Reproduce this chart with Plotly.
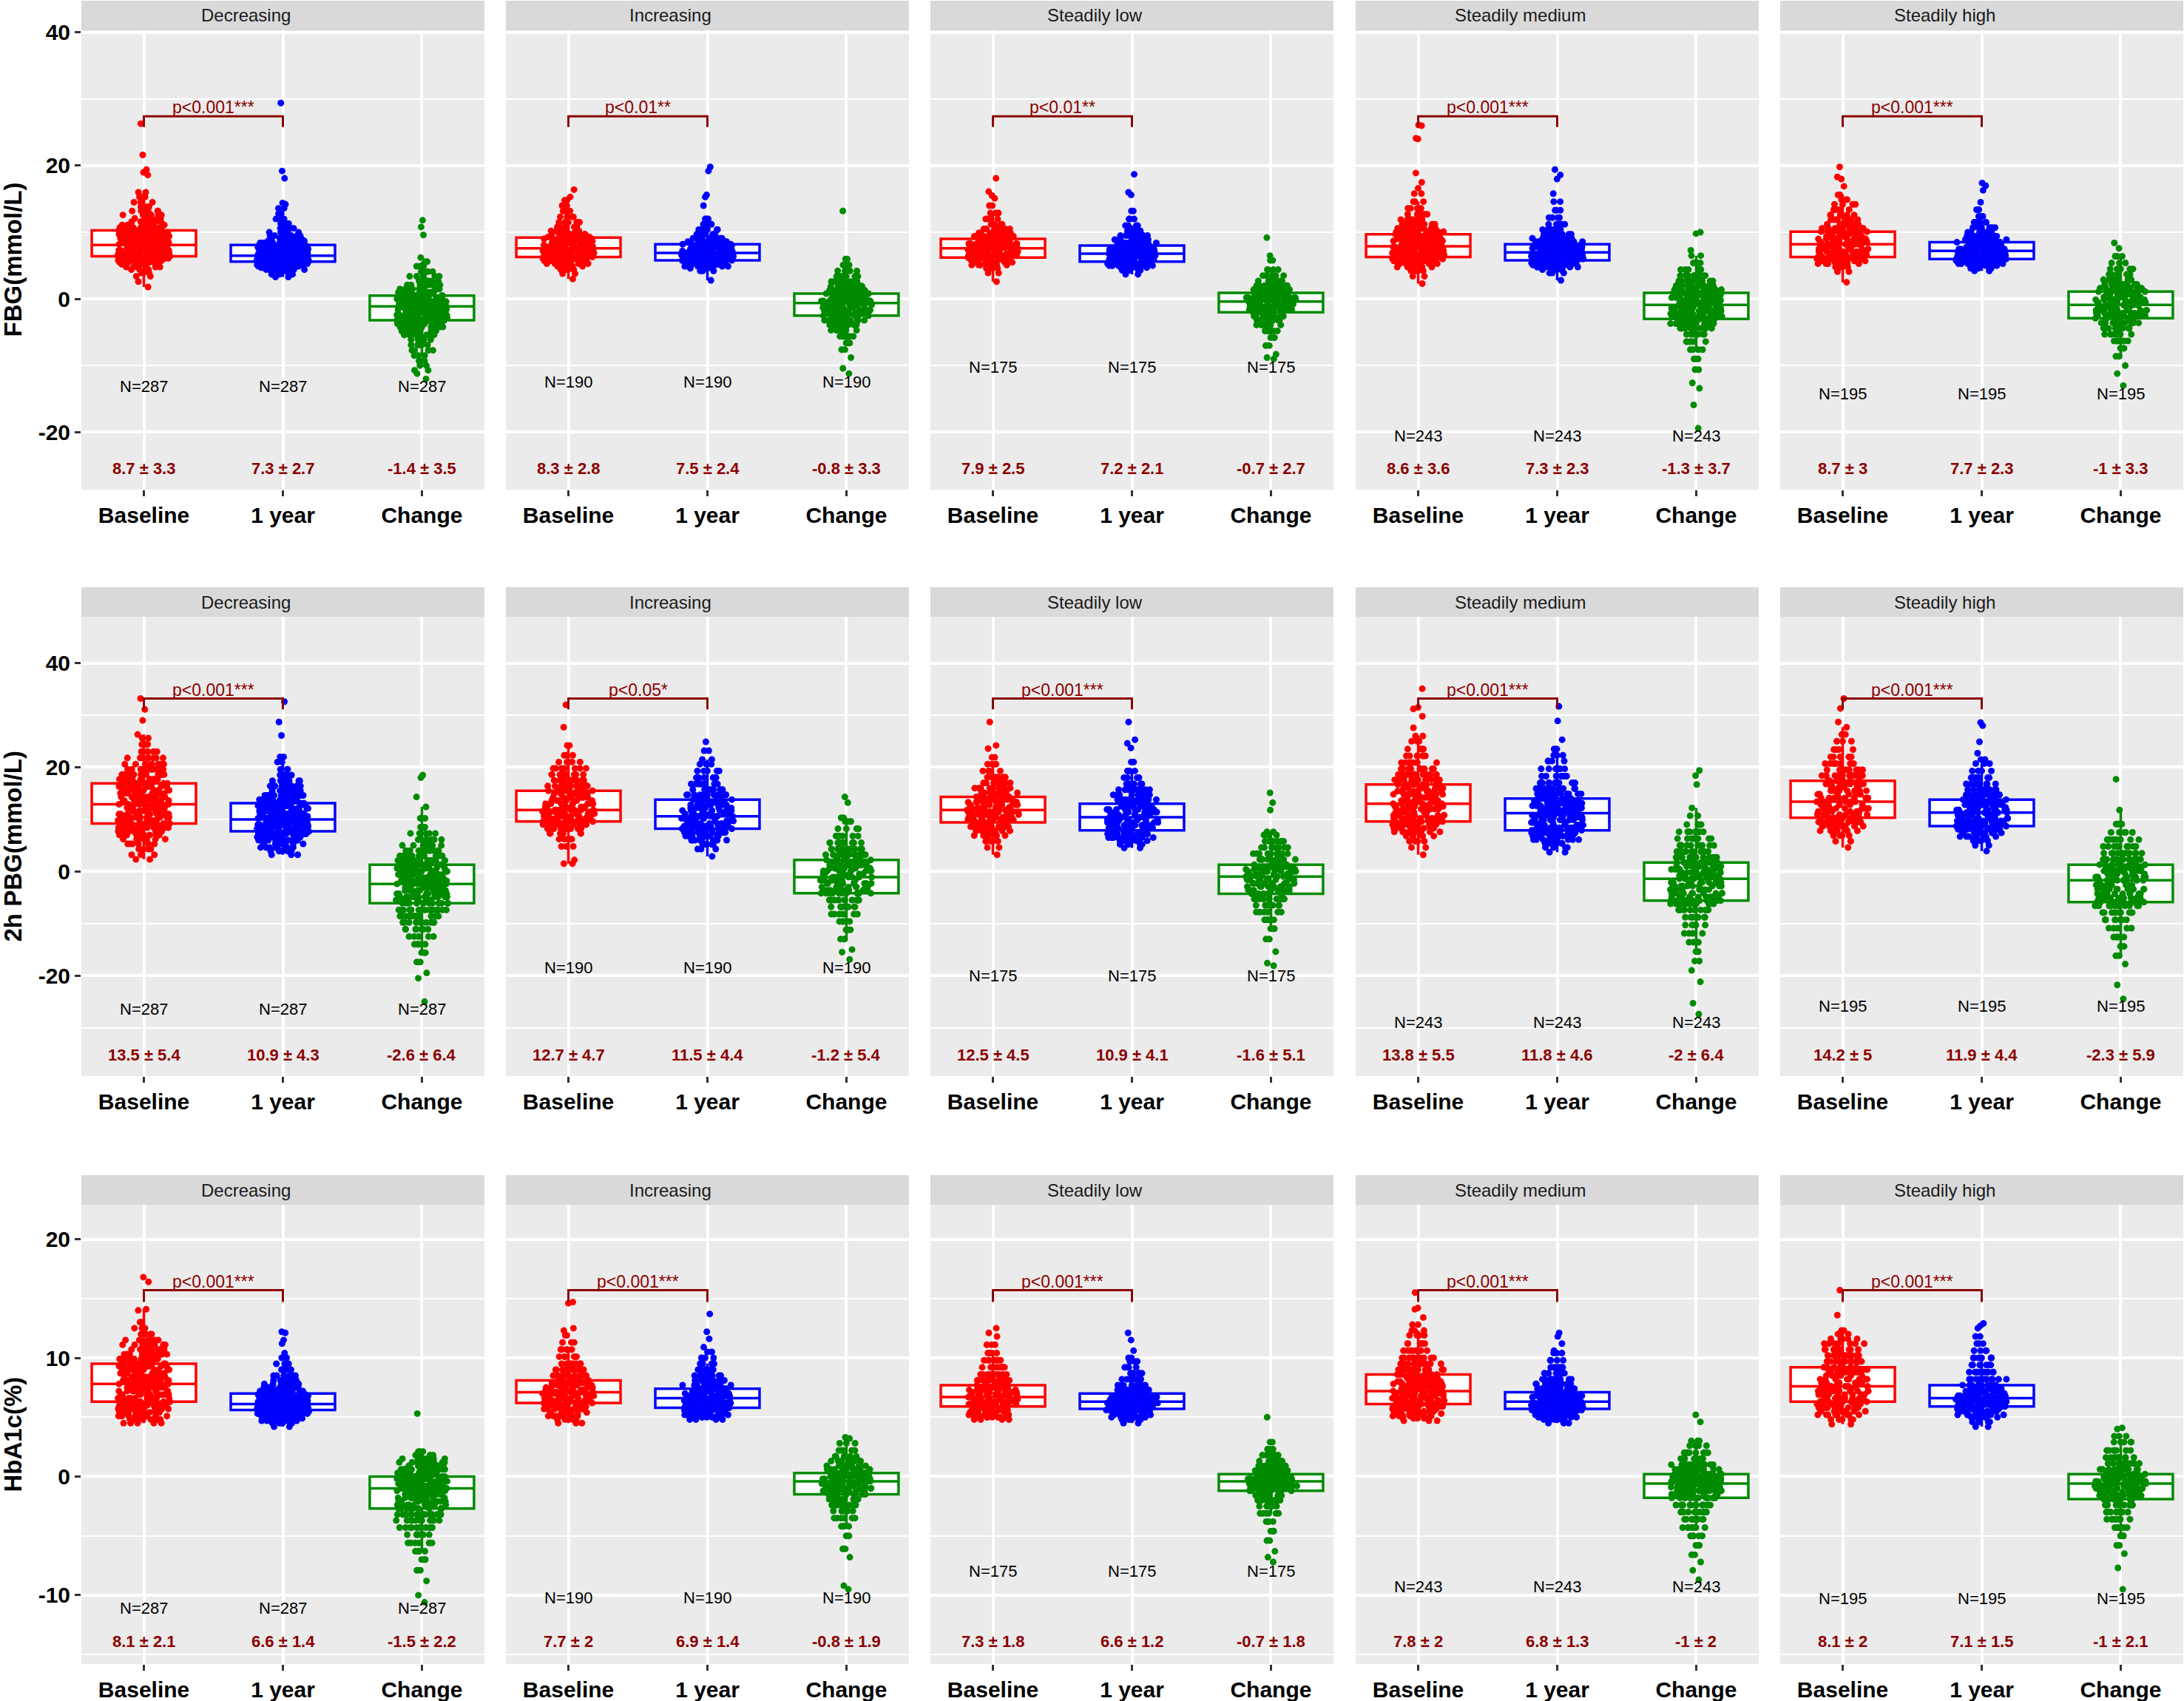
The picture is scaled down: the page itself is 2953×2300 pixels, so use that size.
import plotly.graph_objects as go

# ---------------- categories ----------------
GROUPS = ['Decreasing', 'Increasing', 'Steadily low', 'Steadily medium', 'Steadily high']
TIMES = ['Baseline', '1 year', 'Change']
N_GROUP = [287, 190, 175, 243, 195]
Y_TITLES = ['FBG(mmol/L)', '2h PBG(mmol/L)', 'HbA1c(%)']

# Jittered points: each value comes with how many
# points sit at about that level (the cores are too dense to read one by one).

# ---------------- FBG ----------------
fbg_dec_base = [1.8, 2.6, 3.4, 3.9, 4.4, 4.8, 5.2, 5.5, 5.8, 6.1, 6.4, 6.7, 7.0, 7.3, 7.6, 7.9, 8.2, 8.5, 8.8, 9.1, 9.4, 9.7, 10.0, 10.3, 10.7, 11.1, 11.6, 12.1, 12.6, 13.2, 13.8, 14.5, 15.3, 16.0, 18.6, 19.0, 19.4, 21.6, 26.3]
fbg_dec_base_n = [1, 1, 2, 3, 4, 6, 9, 12, 14, 16, 11, 11, 11, 11, 11, 11, 11, 11, 11, 11, 11, 11, 11, 11, 12, 10, 9, 8, 7, 6, 5, 4, 3, 2, 1, 1, 1, 1, 1]
fbg_dec_1y = [3.3, 3.7, 4.1, 4.4, 4.7, 4.9, 5.1, 5.3, 5.5, 5.7, 5.9, 6.1, 6.3, 6.5, 6.7, 6.9, 7.1, 7.3, 7.5, 7.7, 7.9, 8.1, 8.4, 8.7, 9.1, 9.5, 10.0, 10.6, 11.3, 12.0, 12.8, 13.6, 14.2, 14.4, 18.1, 19.2, 29.4]
fbg_dec_1y_n = [2, 3, 5, 7, 9, 10, 11, 12, 12, 13, 13, 13, 13, 13, 11, 11, 11, 11, 11, 11, 11, 11, 12, 11, 10, 8, 7, 5, 4, 3, 2, 2, 1, 1, 1, 1, 1]
fbg_dec_chg = [-12.0, -11.2, -10.7, -10.0, -9.3, -8.5, -7.7, -6.9, -6.1, -5.4, -4.8, -4.2, -3.7, -3.2, -2.8, -2.4, -2.0, -1.6, -1.2, -0.8, -0.4, 0.0, 0.5, 1.0, 1.5, 2.1, 2.7, 3.4, 4.1, 4.9, 5.6, 6.2, 9.6, 10.8, 11.8]
fbg_dec_chg_n = [1, 1, 2, 2, 3, 3, 4, 5, 6, 8, 10, 12, 14, 14, 14, 15, 15, 15, 15, 14, 14, 14, 14, 13, 12, 10, 8, 6, 5, 3, 2, 1, 1, 1, 1]
fbg_inc_base = [3.0, 3.8, 4.4, 4.9, 5.3, 5.7, 6.0, 6.3, 6.6, 6.9, 7.2, 7.5, 7.8, 8.1, 8.4, 8.7, 9.0, 9.3, 9.7, 10.2, 10.8, 11.5, 12.3, 13.2, 14.0, 14.8, 15.3, 16.4]
fbg_inc_base_n = [1, 2, 4, 6, 8, 12, 14, 10, 10, 10, 10, 10, 10, 10, 10, 10, 10, 9, 9, 8, 7, 5, 4, 3, 2, 2, 1, 1]
fbg_inc_1y = [2.8, 4.2, 4.6, 4.9, 5.2, 5.5, 5.8, 6.0, 6.2, 6.4, 6.6, 6.8, 7.0, 7.2, 7.4, 7.6, 7.8, 8.0, 8.2, 8.6, 9.1, 9.7, 10.4, 11.2, 12.0, 14.0, 15.3, 15.6, 19.2, 19.8]
fbg_inc_1y_n = [1, 3, 6, 9, 12, 15, 8, 8, 8, 8, 8, 8, 8, 8, 8, 8, 8, 8, 8, 12, 10, 8, 6, 4, 3, 1, 1, 1, 1, 1]
fbg_inc_chg = [-11.2, -10.4, -8.8, -7.6, -6.6, -5.6, -4.7, -3.9, -3.2, -2.5, -2.1, -1.7, -1.3, -0.9, -0.6, -0.3, 0.0, 0.4, 0.8, 1.3, 1.9, 2.6, 3.4, 4.2, 5.1, 6.0, 13.2]
fbg_inc_chg_n = [1, 1, 1, 2, 3, 5, 7, 11, 14, 10, 10, 10, 10, 10, 10, 10, 10, 10, 10, 13, 11, 9, 6, 4, 3, 2, 1]
fbg_low_base = [2.6, 3.9, 4.6, 5.1, 5.5, 5.9, 6.2, 6.5, 6.8, 7.1, 7.4, 7.7, 8.0, 8.3, 8.6, 9.0, 9.4, 9.9, 10.5, 11.2, 12.0, 12.9, 14.0, 15.1, 15.5, 16.1, 18.1]
fbg_low_base_n = [1, 2, 4, 8, 11, 15, 9, 9, 9, 9, 9, 9, 9, 9, 9, 9, 12, 9, 7, 5, 4, 3, 2, 1, 1, 1, 1]
fbg_low_1y = [3.7, 4.3, 4.7, 5.0, 5.3, 5.6, 5.9, 6.2, 6.5, 6.8, 7.1, 7.4, 7.7, 8.0, 8.4, 8.9, 9.5, 10.2, 11.0, 12.0, 13.2, 15.6, 16.0, 18.7]
fbg_low_1y_n = [2, 4, 7, 11, 15, 10, 10, 10, 10, 10, 10, 10, 10, 10, 12, 10, 8, 6, 4, 3, 2, 1, 1, 1]
fbg_low_chg = [-9.0, -8.8, -8.3, -7.0, -5.8, -4.8, -3.9, -3.2, -2.6, -2.0, -1.6, -1.2, -0.8, -0.4, -0.1, 0.2, 0.5, 0.9, 1.4, 2.0, 2.7, 3.5, 4.4, 5.8, 6.5, 9.2]
fbg_low_chg_n = [1, 1, 1, 2, 3, 5, 7, 9, 13, 10, 10, 10, 10, 10, 10, 10, 10, 10, 12, 10, 8, 6, 4, 2, 1, 1]
fbg_med_base = [2.3, 3.4, 4.2, 4.8, 5.3, 5.7, 6.0, 6.3, 6.6, 6.9, 7.2, 7.5, 7.8, 8.1, 8.4, 8.7, 9.0, 9.4, 9.7, 10.1, 10.6, 11.2, 11.9, 12.7, 13.6, 14.6, 15.8, 16.6, 17.5, 18.9, 24.0, 24.1, 26.0, 26.1]
fbg_med_base_n = [1, 2, 4, 7, 10, 14, 17, 10, 10, 10, 10, 10, 10, 10, 10, 10, 10, 10, 10, 14, 12, 10, 8, 6, 5, 3, 2, 1, 1, 1, 1, 1, 1, 1]
fbg_med_1y = [2.8, 3.9, 4.4, 4.8, 5.1, 5.4, 5.8, 6.0, 6.2, 6.4, 6.6, 6.8, 7.0, 7.2, 7.4, 7.6, 7.8, 8.0, 8.2, 8.6, 9.1, 9.7, 10.4, 11.2, 12.2, 13.3, 14.6, 15.8, 18.0, 18.6, 19.4]
fbg_med_1y_n = [1, 3, 6, 10, 15, 20, 9, 9, 9, 9, 9, 9, 9, 9, 9, 9, 9, 9, 9, 16, 13, 10, 8, 6, 4, 3, 2, 1, 1, 1, 1]
fbg_med_chg = [-19.4, -15.9, -13.4, -12.6, -10.6, -9.0, -7.6, -6.4, -5.3, -4.4, -3.7, -3.0, -2.6, -2.2, -1.8, -1.4, -1.0, -0.6, -0.2, 0.2, 0.6, 0.9, 1.4, 2.0, 2.7, 3.5, 4.4, 5.4, 6.5, 7.3, 9.8, 10.0]
fbg_med_chg_n = [1, 1, 1, 1, 2, 3, 4, 6, 8, 11, 15, 11, 11, 11, 11, 11, 11, 11, 11, 11, 11, 11, 15, 13, 11, 9, 6, 4, 2, 1, 1, 1]
fbg_high_base = [2.5, 4.1, 4.8, 5.3, 5.7, 6.0, 6.3, 6.7, 7.1, 7.5, 7.9, 8.2, 8.6, 9.0, 9.4, 9.8, 10.1, 10.6, 11.2, 11.9, 12.6, 13.4, 14.2, 14.9, 15.6, 16.9, 18.0, 18.3, 19.8]
fbg_high_base_n = [1, 2, 4, 8, 12, 17, 9, 9, 9, 9, 9, 9, 9, 9, 9, 9, 9, 11, 9, 8, 6, 5, 4, 3, 2, 1, 1, 1, 1]
fbg_high_1y = [4.2, 4.6, 5.0, 5.3, 5.6, 5.8, 6.0, 6.3, 6.6, 6.9, 7.2, 7.5, 7.8, 8.1, 8.5, 8.9, 9.4, 10.0, 10.7, 11.5, 12.4, 13.4, 14.5, 16.3, 17.0, 17.4]
fbg_high_1y_n = [2, 4, 7, 10, 12, 14, 11, 11, 11, 11, 11, 11, 11, 11, 11, 12, 10, 8, 7, 5, 3, 2, 1, 1, 1, 1]
fbg_high_chg = [-13.0, -11.2, -10.0, -8.6, -7.4, -6.3, -5.3, -4.4, -3.6, -2.9, -2.5, -2.1, -1.7, -1.3, -0.9, -0.5, -0.1, 0.3, 0.7, 1.1, 1.6, 2.2, 2.9, 3.7, 4.5, 5.4, 6.4, 7.6, 8.4]
fbg_high_chg_n = [1, 1, 1, 2, 3, 5, 7, 10, 14, 9, 9, 9, 9, 9, 9, 9, 9, 9, 9, 9, 12, 10, 8, 7, 5, 4, 3, 1, 1]

# ---------------- 2h PBG ----------------
pbg_dec_base = [2.3, 3.2, 4.3, 5.3, 6.2, 7.0, 7.7, 8.4, 9.2, 9.8, 10.4, 11.0, 11.6, 12.2, 12.9, 13.6, 14.3, 15.0, 15.6, 16.3, 16.9, 17.7, 18.6, 19.6, 20.6, 21.8, 23.0, 24.4, 25.6, 26.3, 29.0, 31.1, 33.2]
pbg_dec_base_n = [2, 3, 4, 6, 8, 11, 15, 20, 11, 11, 11, 11, 11, 11, 11, 11, 11, 11, 11, 11, 11, 15, 14, 12, 10, 8, 5, 3, 2, 1, 1, 1, 1]
pbg_dec_1y = [3.2, 3.9, 4.6, 5.3, 6.0, 6.6, 7.2, 7.7, 8.2, 8.6, 9.0, 9.4, 9.8, 10.2, 10.6, 11.1, 11.6, 12.1, 12.6, 13.1, 13.8, 14.6, 15.5, 16.4, 17.4, 18.5, 19.6, 21.0, 22.0, 26.1, 28.7, 32.6]
pbg_dec_1y_n = [3, 5, 7, 9, 12, 15, 19, 11, 11, 11, 11, 11, 11, 11, 11, 11, 11, 11, 11, 11, 17, 15, 12, 9, 7, 5, 3, 2, 2, 1, 1, 1]
pbg_dec_chg = [-25.0, -20.5, -19.5, -17.4, -15.6, -14.0, -12.5, -11.1, -9.8, -8.6, -7.4, -6.1, -5.5, -4.9, -4.3, -3.7, -3.1, -2.4, -1.8, -1.2, -0.6, 0.0, 0.6, 1.3, 2.1, 3.0, 4.0, 5.0, 6.1, 7.3, 8.5, 10.2, 12.4, 14.3, 18.0, 18.5]
pbg_dec_chg_n = [1, 1, 1, 2, 3, 4, 5, 7, 10, 14, 19, 11, 11, 11, 11, 11, 11, 11, 11, 11, 11, 11, 11, 11, 17, 15, 12, 9, 7, 5, 3, 2, 1, 1, 1, 1]
pbg_inc_base = [1.5, 2.2, 4.8, 6.2, 7.3, 8.2, 9.0, 9.6, 10.1, 10.6, 11.1, 11.5, 11.8, 12.4, 13.0, 13.6, 14.2, 14.9, 15.5, 16.4, 17.5, 18.6, 19.8, 21.0, 22.3, 24.2, 27.7, 32.0]
pbg_inc_base_n = [2, 1, 3, 5, 8, 12, 16, 8, 8, 8, 8, 8, 8, 8, 8, 8, 8, 8, 8, 13, 11, 9, 7, 5, 3, 2, 1, 1]
pbg_inc_1y = [2.9, 4.3, 5.2, 6.0, 6.8, 7.5, 8.2, 8.7, 9.2, 9.7, 10.2, 10.6, 11.1, 11.7, 12.2, 12.8, 13.3, 13.8, 14.7, 15.7, 16.8, 18.0, 19.3, 20.6, 21.5, 23.2, 24.9]
pbg_inc_1y_n = [1, 3, 5, 8, 12, 17, 8, 8, 8, 8, 8, 8, 8, 8, 8, 8, 8, 8, 12, 10, 9, 7, 5, 3, 2, 2, 1]
pbg_inc_chg = [-16.9, -15.5, -15.0, -13.0, -11.2, -9.6, -8.2, -6.8, -5.5, -4.2, -3.6, -3.0, -2.3, -1.7, -1.1, -0.5, 0.1, 0.6, 1.2, 1.7, 2.2, 3.2, 4.3, 5.5, 6.8, 8.2, 9.6, 10.3, 13.2, 14.3]
pbg_inc_chg_n = [1, 1, 1, 2, 3, 4, 6, 10, 14, 13, 8, 8, 8, 8, 8, 8, 8, 8, 8, 8, 8, 13, 11, 9, 6, 4, 3, 2, 1, 1]
pbg_low_base = [3.2, 4.6, 5.8, 6.9, 7.8, 8.6, 9.4, 9.9, 10.4, 10.9, 11.4, 11.8, 12.3, 12.8, 13.3, 13.8, 14.3, 15.1, 16.0, 17.0, 18.1, 19.3, 20.6, 21.9, 23.6, 24.2, 28.7]
pbg_low_base_n = [1, 2, 4, 7, 11, 17, 8, 8, 8, 8, 8, 8, 8, 8, 8, 8, 8, 12, 10, 8, 6, 4, 3, 2, 1, 1, 1]
pbg_low_1y = [4.5, 5.2, 5.9, 6.5, 7.2, 7.9, 8.4, 8.9, 9.4, 9.9, 10.4, 10.9, 11.4, 11.9, 12.5, 13.0, 13.8, 14.7, 15.7, 16.8, 18.0, 19.3, 21.0, 23.7, 24.6, 25.3, 28.7]
pbg_low_1y_n = [2, 4, 7, 11, 17, 8, 8, 8, 8, 8, 8, 8, 8, 8, 8, 8, 12, 10, 8, 6, 4, 3, 2, 1, 1, 1, 1]
pbg_low_chg = [-18.1, -17.6, -15.4, -13.0, -11.0, -9.3, -7.8, -6.5, -5.3, -4.3, -3.6, -2.9, -2.3, -1.6, -1.0, -0.5, 0.0, 0.4, 0.9, 1.3, 2.3, 3.4, 4.6, 5.8, 7.0, 7.6, 11.8, 13.2, 15.1]
pbg_low_chg_n = [1, 1, 1, 2, 3, 4, 6, 10, 14, 8, 8, 8, 8, 8, 8, 8, 8, 8, 8, 8, 12, 10, 8, 6, 4, 2, 1, 1, 1]
pbg_med_base = [3.2, 4.6, 5.8, 6.8, 7.6, 8.3, 9.0, 9.6, 10.2, 10.8, 11.4, 12.0, 12.5, 13.0, 13.6, 14.2, 14.8, 15.4, 16.0, 16.7, 17.6, 18.6, 19.7, 20.9, 22.2, 23.5, 25.0, 26.0, 27.6, 29.8, 31.2, 31.5, 35.1]
pbg_med_base_n = [1, 2, 4, 6, 9, 13, 18, 9, 9, 9, 9, 9, 9, 9, 9, 9, 9, 9, 9, 9, 15, 13, 11, 8, 6, 4, 3, 2, 1, 1, 1, 1, 1]
pbg_med_1y = [3.7, 4.6, 5.4, 6.1, 6.8, 7.4, 7.9, 8.4, 8.9, 9.4, 9.9, 10.4, 10.8, 11.2, 11.7, 12.2, 12.6, 13.1, 13.5, 14.0, 14.9, 15.9, 17.0, 18.3, 19.7, 21.2, 22.3, 23.5, 25.3, 28.9, 31.7]
pbg_med_1y_n = [2, 4, 6, 9, 13, 18, 9, 9, 9, 9, 9, 9, 9, 9, 9, 9, 9, 9, 9, 9, 15, 13, 11, 8, 6, 4, 3, 2, 1, 1, 1]
pbg_med_chg = [-27.4, -25.3, -21.2, -19.0, -17.2, -15.4, -13.6, -11.9, -10.3, -8.8, -7.4, -6.2, -5.6, -4.9, -4.2, -3.5, -2.8, -2.1, -1.4, -0.8, -0.2, 0.4, 1.0, 1.7, 2.7, 3.8, 5.0, 6.3, 7.6, 9.0, 10.7, 12.2, 16.7, 18.4, 19.4]
pbg_med_chg_n = [1, 1, 1, 1, 2, 2, 3, 4, 5, 7, 10, 14, 10, 10, 10, 10, 10, 10, 10, 10, 10, 10, 10, 10, 14, 12, 10, 8, 6, 4, 2, 1, 1, 1, 1]
pbg_high_base = [4.6, 5.8, 6.9, 7.8, 8.7, 9.5, 10.3, 10.9, 11.5, 12.1, 12.8, 13.4, 14.1, 14.8, 15.5, 16.2, 16.8, 17.4, 18.4, 19.5, 20.7, 22.0, 23.4, 25.0, 26.3, 27.7, 28.7, 31.3, 33.2]
pbg_high_base_n = [1, 2, 4, 7, 12, 18, 8, 8, 8, 8, 8, 8, 8, 8, 8, 8, 8, 8, 13, 11, 9, 6, 4, 3, 2, 1, 1, 1, 1]
pbg_high_1y = [3.9, 5.0, 5.9, 6.7, 7.4, 8.1, 8.7, 9.2, 9.7, 10.2, 10.8, 11.3, 11.8, 12.3, 12.8, 13.3, 13.8, 14.7, 15.7, 16.8, 18.0, 19.3, 20.7, 21.5, 22.7, 24.9, 28.0, 28.6]
pbg_high_1y_n = [1, 2, 4, 8, 12, 18, 9, 9, 9, 9, 9, 9, 9, 9, 9, 9, 9, 12, 10, 8, 6, 4, 3, 2, 1, 1, 1, 1]
pbg_high_chg = [-24.5, -21.8, -17.8, -16.2, -14.4, -12.6, -10.9, -9.3, -7.9, -6.6, -5.9, -5.1, -4.3, -3.4, -2.6, -1.7, -1.1, -0.5, 0.1, 0.7, 1.3, 2.3, 3.5, 4.8, 6.1, 7.5, 9.1, 11.8, 17.7]
pbg_high_chg_n = [1, 1, 1, 2, 3, 4, 5, 7, 9, 12, 9, 9, 9, 9, 9, 9, 9, 9, 9, 9, 9, 13, 11, 9, 7, 5, 3, 1, 1]

# ---------------- HbA1c ----------------
hba_dec_base = [4.5, 4.8, 5.1, 5.4, 5.7, 6.0, 6.3, 6.6, 6.9, 7.2, 7.5, 7.8, 8.1, 8.4, 8.7, 9.0, 9.3, 9.5, 9.9, 10.3, 10.7, 11.1, 11.5, 12.0, 12.5, 13.0, 14.0, 14.1, 16.4, 16.8]
hba_dec_base_n = [5, 8, 11, 14, 16, 17, 12, 12, 12, 12, 12, 12, 12, 12, 12, 12, 12, 12, 17, 15, 12, 10, 7, 5, 3, 2, 1, 1, 1, 1]
hba_dec_1y = [4.2, 4.5, 4.7, 4.9, 5.1, 5.3, 5.5, 5.6, 5.7, 5.8, 5.9, 6.0, 6.1, 6.2, 6.3, 6.4, 6.5, 6.6, 6.7, 6.8, 6.9, 7.0, 7.2, 7.5, 7.8, 8.1, 8.5, 9.0, 9.5, 10.0, 10.4, 11.2, 11.5, 12.1, 12.2]
hba_dec_1y_n = [2, 5, 8, 12, 17, 21, 8, 9, 9, 9, 9, 9, 9, 9, 9, 9, 9, 9, 9, 9, 9, 9, 16, 14, 11, 9, 7, 5, 3, 2, 1, 1, 1, 1, 1]
hba_dec_chg = [-10.6, -10.0, -8.8, -7.9, -7.0, -6.3, -5.6, -4.9, -4.3, -3.7, -3.2, -2.7, -2.4, -2.1, -1.8, -1.5, -1.2, -1.0, -0.8, -0.6, -0.4, -0.2, 0.0, 0.3, 0.6, 0.9, 1.2, 1.5, 1.8, 2.1, 5.3]
hba_dec_chg_n = [1, 1, 1, 2, 3, 4, 6, 8, 11, 15, 19, 12, 12, 12, 12, 12, 12, 12, 12, 12, 12, 12, 12, 16, 15, 13, 11, 8, 5, 3, 1]
hba_inc_base = [4.5, 4.8, 5.1, 5.4, 5.7, 5.9, 6.2, 6.4, 6.6, 6.8, 7.0, 7.1, 7.3, 7.5, 7.7, 7.9, 8.1, 8.5, 9.0, 9.5, 10.1, 10.7, 11.3, 11.9, 12.3, 12.5, 14.6, 14.7]
hba_inc_base_n = [3, 5, 7, 9, 11, 12, 8, 8, 8, 8, 8, 8, 8, 8, 8, 8, 8, 12, 10, 8, 6, 5, 3, 2, 1, 1, 1, 1]
hba_inc_1y = [4.8, 5.0, 5.2, 5.4, 5.6, 5.8, 6.0, 6.2, 6.4, 6.6, 6.8, 7.0, 7.2, 7.4, 7.7, 8.1, 8.5, 9.0, 9.5, 10.0, 10.5, 10.9, 11.6, 12.2, 13.7]
hba_inc_1y_n = [4, 7, 10, 12, 14, 10, 10, 10, 10, 10, 10, 10, 10, 10, 13, 11, 9, 6, 4, 3, 2, 1, 1, 1, 1]
hba_inc_chg = [-9.5, -9.2, -6.8, -6.1, -5.0, -4.2, -3.5, -2.9, -2.4, -1.9, -1.5, -1.2, -1.0, -0.8, -0.6, -0.4, -0.2, 0.0, 0.1, 0.3, 0.6, 0.9, 1.3, 1.7, 2.2, 2.8, 3.2, 3.3]
hba_inc_chg_n = [1, 1, 1, 2, 3, 4, 6, 8, 10, 12, 9, 9, 9, 9, 9, 9, 9, 9, 9, 9, 13, 11, 9, 7, 5, 3, 1, 1]
hba_low_base = [4.8, 5.0, 5.2, 5.4, 5.6, 5.9, 6.1, 6.3, 6.5, 6.7, 6.9, 7.1, 7.3, 7.5, 7.7, 8.1, 8.6, 9.2, 9.8, 10.4, 11.1, 11.8, 12.1, 12.5]
hba_low_base_n = [4, 7, 9, 11, 12, 9, 9, 9, 9, 9, 9, 9, 9, 9, 9, 12, 10, 8, 6, 4, 3, 1, 1, 1]
hba_low_1y = [4.5, 4.8, 5.0, 5.2, 5.4, 5.6, 5.7, 5.8, 5.9, 6.0, 6.1, 6.2, 6.3, 6.4, 6.5, 6.6, 6.7, 6.8, 6.9, 7.0, 7.3, 7.7, 8.2, 8.7, 9.2, 9.7, 10.0, 10.6, 11.5, 12.1]
hba_low_1y_n = [2, 5, 7, 9, 10, 11, 6, 6, 6, 6, 6, 6, 6, 6, 6, 6, 6, 6, 6, 6, 12, 10, 8, 6, 4, 3, 2, 1, 1, 1]
hba_low_chg = [-7.2, -6.8, -6.3, -5.4, -4.6, -3.8, -3.1, -2.5, -2.0, -1.6, -1.2, -1.0, -0.8, -0.6, -0.4, -0.2, 0.0, 0.2, 0.5, 0.9, 1.3, 1.8, 2.3, 2.9, 5.0]
hba_low_chg_n = [1, 1, 1, 2, 3, 4, 6, 8, 9, 10, 11, 11, 11, 11, 11, 11, 11, 11, 12, 10, 8, 6, 4, 2, 1]
hba_med_base = [4.7, 4.9, 5.1, 5.3, 5.5, 5.7, 5.9, 6.1, 6.4, 6.6, 6.8, 7.0, 7.2, 7.4, 7.6, 7.8, 8.0, 8.3, 8.6, 9.0, 9.5, 10.0, 10.6, 11.2, 11.9, 12.3, 12.8, 13.4, 14.1, 14.2, 15.5]
hba_med_base_n = [3, 5, 7, 9, 10, 11, 12, 10, 10, 10, 10, 10, 10, 10, 10, 10, 10, 10, 10, 14, 12, 10, 8, 6, 4, 3, 2, 1, 1, 1, 1]
hba_med_1y = [4.5, 4.8, 5.0, 5.2, 5.4, 5.6, 5.7, 5.8, 5.9, 6.0, 6.1, 6.2, 6.3, 6.4, 6.5, 6.6, 6.7, 6.8, 6.9, 7.0, 7.1, 7.4, 7.8, 8.2, 8.7, 9.2, 9.8, 10.4, 10.6, 11.2, 11.8, 12.1]
hba_med_1y_n = [3, 6, 9, 12, 14, 16, 8, 8, 8, 8, 8, 8, 8, 8, 8, 8, 8, 8, 8, 8, 8, 15, 13, 10, 8, 6, 4, 3, 1, 1, 1, 1]
hba_med_chg = [-8.7, -7.9, -7.2, -6.6, -5.8, -5.0, -4.3, -3.6, -3.0, -2.4, -1.8, -1.5, -1.2, -0.9, -0.6, -0.4, -0.2, 0.0, 0.2, 0.6, 1.0, 1.5, 2.0, 2.6, 3.0, 4.6, 5.2]
hba_med_chg_n = [1, 1, 1, 2, 3, 5, 7, 9, 12, 15, 15, 15, 15, 15, 15, 15, 15, 15, 15, 16, 13, 10, 8, 5, 3, 1, 1]
hba_high_base = [4.4, 4.8, 5.2, 5.5, 5.8, 6.1, 6.3, 6.6, 6.9, 7.2, 7.4, 7.6, 7.9, 8.2, 8.5, 8.8, 9.0, 9.2, 9.7, 10.2, 10.7, 11.2, 11.6, 12.0, 12.3, 13.6, 15.7]
hba_high_base_n = [2, 5, 8, 10, 11, 12, 8, 8, 8, 8, 8, 8, 8, 8, 8, 8, 8, 8, 12, 11, 9, 7, 5, 3, 2, 1, 1]
hba_high_1y = [4.2, 4.6, 5.0, 5.2, 5.5, 5.7, 5.9, 6.1, 6.3, 6.5, 6.6, 6.8, 7.0, 7.2, 7.4, 7.7, 8.2, 8.8, 9.4, 10.0, 10.6, 11.2, 11.8, 12.5, 12.7, 12.9]
hba_high_1y_n = [2, 4, 7, 9, 12, 14, 10, 10, 10, 10, 10, 10, 10, 10, 10, 10, 13, 10, 8, 6, 4, 3, 2, 1, 1, 1]
hba_high_chg = [-9.5, -7.7, -6.5, -5.8, -5.0, -4.3, -3.6, -3.0, -2.4, -1.9, -1.6, -1.3, -1.0, -0.8, -0.6, -0.4, -0.2, 0.0, 0.2, 0.6, 1.1, 1.6, 2.2, 2.9, 3.4, 4.0, 4.1]
hba_high_chg_n = [1, 1, 1, 2, 3, 5, 7, 10, 12, 10, 10, 10, 10, 10, 10, 10, 10, 10, 10, 13, 11, 9, 7, 5, 3, 1, 1]

# ---------------- box quartiles [group][time] ----------------
FBG_Q1 = [[6.4, 5.6, -3.2], [6.3, 5.8, -2.5], [6.2, 5.6, -2.0], [6.3, 5.8, -3.0], [6.3, 6.0, -2.9]]
FBG_MED = [[8.1, 6.5, -1.1], [7.6, 6.9, -0.6], [7.6, 6.8, -0.4], [7.9, 7.0, -0.9], [8.2, 7.2, -0.9]]
FBG_Q3 = [[10.3, 8.1, 0.5], [9.2, 8.2, 0.8], [9.0, 8.0, 0.9], [9.7, 8.2, 0.9], [10.1, 8.5, 1.1]]
PBG_Q1 = [[9.2, 7.7, -6.1], [9.6, 8.2, -4.2], [9.4, 7.9, -4.3], [9.6, 7.9, -5.6], [10.3, 8.7, -5.9]]
PBG_MED = [[12.9, 10.0, -2.4], [11.8, 10.6, -1.1], [11.8, 10.4, -1.0], [13.0, 11.2, -1.4], [13.4, 11.3, -1.7]]
PBG_Q3 = [[16.9, 13.1, 1.3], [15.5, 13.8, 2.2], [14.3, 13.0, 1.3], [16.7, 14.0, 1.7], [17.4, 13.8, 1.3]]
HBA_Q1 = [[6.3, 5.6, -2.7], [6.2, 5.8, -1.5], [5.9, 5.7, -1.2], [6.1, 5.7, -1.8], [6.3, 5.9, -1.9]]
HBA_MED = [[7.8, 6.1, -1.0], [7.1, 6.6, -0.4], [6.7, 6.3, -0.4], [7.2, 6.3, -0.6], [7.6, 6.6, -0.6]]
HBA_Q3 = [[9.5, 7.0, 0.0], [8.1, 7.4, 0.3], [7.7, 7.0, 0.2], [8.6, 7.1, 0.2], [9.2, 7.7, 0.2]]

# ---------------- mean and SD labels ----------------
FBG_MEAN = [[8.7, 7.3, -1.4], [8.3, 7.5, -0.8], [7.9, 7.2, -0.7], [8.6, 7.3, -1.3], [8.7, 7.7, -1.0]]
FBG_SD = [[3.3, 2.7, 3.5], [2.8, 2.4, 3.3], [2.5, 2.1, 2.7], [3.6, 2.3, 3.7], [3.0, 2.3, 3.3]]
PBG_MEAN = [[13.5, 10.9, -2.6], [12.7, 11.5, -1.2], [12.5, 10.9, -1.6], [13.8, 11.8, -2.0], [14.2, 11.9, -2.3]]
PBG_SD = [[5.4, 4.3, 6.4], [4.7, 4.4, 5.4], [4.5, 4.1, 5.1], [5.5, 4.6, 6.4], [5.0, 4.4, 5.9]]
HBA_MEAN = [[8.1, 6.6, -1.5], [7.7, 6.9, -0.8], [7.3, 6.6, -0.7], [7.8, 6.8, -1.0], [8.1, 7.1, -1.0]]
HBA_SD = [[2.1, 1.4, 2.2], [2.0, 1.4, 1.9], [1.8, 1.2, 1.8], [2.0, 1.3, 2.0], [2.0, 1.5, 2.1]]

# ---------------- p-value labels ----------------
FBG_P = ['p<0.001***', 'p<0.01**', 'p<0.01**', 'p<0.001***', 'p<0.001***']
PBG_P = ['p<0.001***', 'p<0.05*', 'p<0.001***', 'p<0.001***', 'p<0.001***']
HBA_P = ['p<0.001***'] * 5

# N label heights per panel
FBG_NY = [-13.1, -12.5, -10.2, -20.6, -14.2]
PBG_NY = [-26.4, -18.5, -20.0, -29.0, -25.9]
HBA_NY = [-11.1, -10.2, -8.0, -9.3, -10.3]


def expand(vals, counts):
    return [v for v, n in zip(vals, counts) for _ in range(n)]


FBG_PTS = [[expand(fbg_dec_base, fbg_dec_base_n), expand(fbg_dec_1y, fbg_dec_1y_n), expand(fbg_dec_chg, fbg_dec_chg_n)],
           [expand(fbg_inc_base, fbg_inc_base_n), expand(fbg_inc_1y, fbg_inc_1y_n), expand(fbg_inc_chg, fbg_inc_chg_n)],
           [expand(fbg_low_base, fbg_low_base_n), expand(fbg_low_1y, fbg_low_1y_n), expand(fbg_low_chg, fbg_low_chg_n)],
           [expand(fbg_med_base, fbg_med_base_n), expand(fbg_med_1y, fbg_med_1y_n), expand(fbg_med_chg, fbg_med_chg_n)],
           [expand(fbg_high_base, fbg_high_base_n), expand(fbg_high_1y, fbg_high_1y_n), expand(fbg_high_chg, fbg_high_chg_n)]]
PBG_PTS = [[expand(pbg_dec_base, pbg_dec_base_n), expand(pbg_dec_1y, pbg_dec_1y_n), expand(pbg_dec_chg, pbg_dec_chg_n)],
           [expand(pbg_inc_base, pbg_inc_base_n), expand(pbg_inc_1y, pbg_inc_1y_n), expand(pbg_inc_chg, pbg_inc_chg_n)],
           [expand(pbg_low_base, pbg_low_base_n), expand(pbg_low_1y, pbg_low_1y_n), expand(pbg_low_chg, pbg_low_chg_n)],
           [expand(pbg_med_base, pbg_med_base_n), expand(pbg_med_1y, pbg_med_1y_n), expand(pbg_med_chg, pbg_med_chg_n)],
           [expand(pbg_high_base, pbg_high_base_n), expand(pbg_high_1y, pbg_high_1y_n), expand(pbg_high_chg, pbg_high_chg_n)]]
HBA_PTS = [[expand(hba_dec_base, hba_dec_base_n), expand(hba_dec_1y, hba_dec_1y_n), expand(hba_dec_chg, hba_dec_chg_n)],
           [expand(hba_inc_base, hba_inc_base_n), expand(hba_inc_1y, hba_inc_1y_n), expand(hba_inc_chg, hba_inc_chg_n)],
           [expand(hba_low_base, hba_low_base_n), expand(hba_low_1y, hba_low_1y_n), expand(hba_low_chg, hba_low_chg_n)],
           [expand(hba_med_base, hba_med_base_n), expand(hba_med_1y, hba_med_1y_n), expand(hba_med_chg, hba_med_chg_n)],
           [expand(hba_high_base, hba_high_base_n), expand(hba_high_1y, hba_high_1y_n), expand(hba_high_chg, hba_high_chg_n)]]

ROWS = [
    (FBG_PTS, FBG_Q1, FBG_MED, FBG_Q3, FBG_MEAN, FBG_SD, FBG_P, FBG_NY),
    (PBG_PTS, PBG_Q1, PBG_MED, PBG_Q3, PBG_MEAN, PBG_SD, PBG_P, PBG_NY),
    (HBA_PTS, HBA_Q1, HBA_MED, HBA_Q3, HBA_MEAN, HBA_SD, HBA_P, HBA_NY),
]

# ---------------- layout (pixels) ----------------
W, H = 2953, 2300
FONT = 'Liberation Sans, Arial, sans-serif'
COLORS = ['#FF0000', '#0000FF', '#008B00']
DARKRED = '#8B0000'
COL_LEFT = [110, 684, 1258, 1833, 2407]
PANEL_W = 545
ROW_TOP = [41, 834, 1629]
PANEL_H = 621
STRIP_H = 40
STRIP_TEXT_SHIFT = -50   # strip labels sit left of the panel centre
Y_RANGE = [[-28.6, 40.3], [-39.3, 48.9], [-15.8, 22.9]]
Y_TICKS = [[-20, 0, 20, 40], [-20, 0, 20, 40], [-10, 0, 10, 20]]
Y_MINOR = [[-10, 10, 30], [-30, -10, 10, 30], [-15, -5, 5, 15]]
MEAN_Y = [-25.4, -35.3, -13.9]
BRACKET = [(25.8, 27.4), (31.1, 33.2), (14.7, 15.7)]

fig = go.Figure()
layout = {}
annotations = []
shapes = []

for r, (pts, q1, med, q3, mean, sd, plab, ny) in enumerate(ROWS):
    top = ROW_TOP[r]
    for c, grp in enumerate(GROUPS):
        k = r * 5 + c + 1
        xa = 'x' if k == 1 else f'x{k}'
        ya = 'y' if k == 1 else f'y{k}'
        for t in range(3):
            fig.add_trace(go.Box(
                x=[t], y=[pts[c][t]], q1=[q1[c][t]], median=[med[c][t]], q3=[q3[c][t]],
                xaxis=xa, yaxis=ya, width=0.75, boxpoints='all', jitter=0.5, pointpos=0,
                fillcolor='white', whiskerwidth=0,
                line=dict(color=COLORS[t], width=3.5),
                marker=dict(color=COLORS[t], size=9, opacity=1),
                showlegend=False, hoverinfo='skip'))

        x0 = COL_LEFT[c] / W
        x1 = (COL_LEFT[c] + PANEL_W) / W
        y1 = 1 - top / H
        y0 = 1 - (top + PANEL_H) / H
        layout['xaxis' if k == 1 else f'xaxis{k}'] = dict(
            domain=[x0, x1], anchor=ya, range=[-0.45, 2.45], automargin=False,
            tickmode='array', tickvals=[0, 1, 2], ticktext=TIMES,
            showgrid=True, gridcolor='white', gridwidth=3.8, zeroline=False, showline=False,
            ticks='outside', ticklen=8, tickwidth=3, tickcolor='#333333',
            tickfont=dict(family=FONT, size=30, color='black', weight='bold'))
        layout['yaxis' if k == 1 else f'yaxis{k}'] = dict(
            domain=[y0, y1], anchor=xa, range=Y_RANGE[r], automargin=False,
            tickmode='array', tickvals=Y_TICKS[r], ticktext=[str(v) for v in Y_TICKS[r]],
            showticklabels=(c == 0), ticks='outside' if c == 0 else '',
            ticklen=8, tickwidth=3, tickcolor='#333333',
            tickfont=dict(family=FONT, size=30, color='black', weight='bold'),
            showgrid=True, gridcolor='white', gridwidth=3.8, zeroline=False, showline=False,
            minor=dict(tickvals=Y_MINOR[r], showgrid=True, gridcolor='white', gridwidth=2, ticks=''))

        # facet strip
        shapes.append(dict(type='rect', xref='paper', yref='paper', x0=x0, x1=x1,
                           y0=1 - top / H, y1=1 - (top - STRIP_H) / H,
                           fillcolor='#D9D9D9', line=dict(width=0), layer='below'))
        annotations.append(dict(text=grp, xref='paper', yref='paper',
                                x=(COL_LEFT[c] + PANEL_W / 2 + STRIP_TEXT_SHIFT) / W,
                                y=1 - (top - STRIP_H / 2) / H, xanchor='center', yanchor='middle',
                                showarrow=False, font=dict(family=FONT, size=24, color='#1A1A1A')))
        # p-value bracket
        lo, hi = BRACKET[r]
        shapes.append(dict(type='path', xref=xa, yref=ya,
                           path=f'M 0,{lo} L 0,{hi} L 1,{hi} L 1,{lo}',
                           line=dict(color=DARKRED, width=3)))
        annotations.append(dict(text=plab[c], xref=xa, yref=ya, x=0.5, y=hi,
                                xanchor='center', yanchor='bottom', yshift=-3, showarrow=False,
                                font=dict(family=FONT, size=23, color=DARKRED)))
        for t in range(3):
            annotations.append(dict(text=f'N={N_GROUP[c]}', xref=xa, yref=ya, x=t, y=ny[c],
                                    xanchor='center', yanchor='middle', showarrow=False,
                                    font=dict(family=FONT, size=22, color='black')))
            annotations.append(dict(text=f'{mean[c][t]:g} ± {sd[c][t]:g}', xref=xa, yref=ya,
                                    x=t, y=MEAN_Y[r], xanchor='center', yanchor='middle',
                                    showarrow=False,
                                    font=dict(family=FONT, size=22, color=DARKRED, weight='bold')))

    # y axis title of the row
    annotations.append(dict(text=Y_TITLES[r], xref='paper', yref='paper', x=17 / W,
                            y=1 - (top + PANEL_H / 2) / H, xanchor='center', yanchor='middle',
                            textangle=-90, showarrow=False,
                            font=dict(family=FONT, size=33, color='black', weight='bold')))

fig.update_layout(
    template='none',
    width=W, height=H, margin=dict(l=0, r=0, t=0, b=0, pad=0, autoexpand=False),
    paper_bgcolor='white', plot_bgcolor='#EBEBEB', showlegend=False,
    annotations=annotations, shapes=shapes, **layout)

# the page body's default margin would push the fixed-size figure off the window
fig.write_html("out.html", config={'displayModeBar': False},
               post_script="document.body.style.margin='0';document.body.style.overflow='hidden';")
